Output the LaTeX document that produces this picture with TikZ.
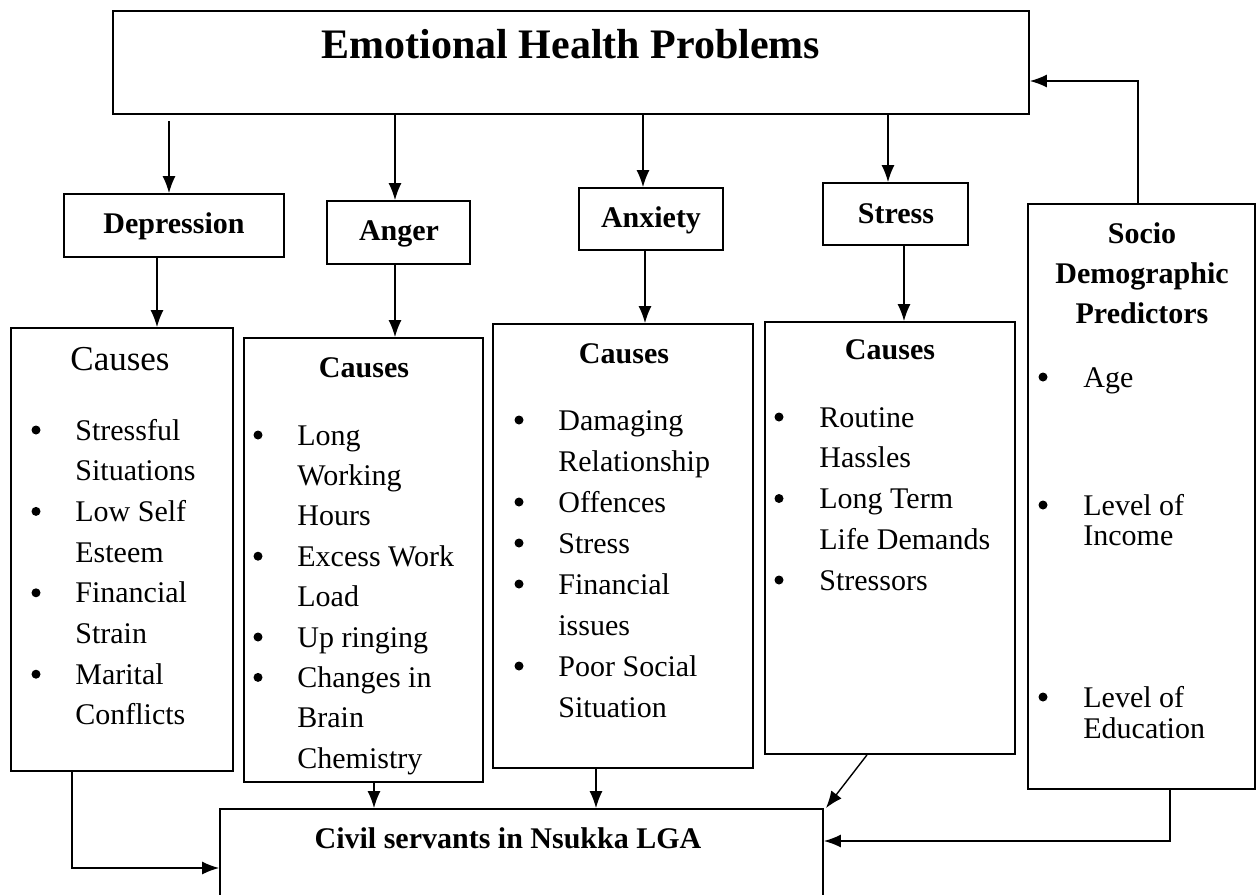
\documentclass[tikz,border=0pt]{standalone}
\usepackage{fontspec}
\setmainfont{Liberation Serif}
\usetikzlibrary{arrows.meta,fit}
\newcommand\bodyfs{\fontsize{15pt}{18pt}\selectfont}
\newcommand\titlefs{\fontsize{21pt}{24pt}\selectfont}
\newcommand\bigcausefs{\fontsize{17.5pt}{20pt}\selectfont}
\begin{document}
\begin{tikzpicture}[x=0.5pt,y=-0.5pt,
  box/.style={draw, line width=0.9pt, inner sep=0pt},
  arr/.style={line width=0.7pt, -{Latex[length=8.5pt,width=6.5pt]}},
  txt/.style={anchor=base west, inner sep=0pt, font=\bodyfs},
  bul/.style={circle, fill, inner sep=0pt, minimum size=4.5pt, yshift=5pt},
  lab/.style={anchor=base, inner sep=0pt, font=\bodyfs\bfseries}]
\useasboundingbox (0,0) rectangle (1260,895);

% boxes
\node[box, fit={(113,11) (1029,114)}] (top) {};
\node[box, fit={(64,194) (284,257)}] (dep) {};
\node[box, fit={(327,201) (470,264)}] (ang) {};
\node[box, fit={(579,188) (723,250)}] (anx) {};
\node[box, fit={(823,183) (968,245)}] (str) {};
\node[box, fit={(1028,204) (1255,789)}] (soc) {};
\node[box, fit={(11,328) (233,771)}] (c1) {};
\node[box, fit={(244,338) (483,782)}] (c2) {};
\node[box, fit={(493,324) (753,768)}] (c3) {};
\node[box, fit={(765,322) (1015,754)}] (c4) {};
\node[box, fit={(220,809) (823,905)}] (civ) {};

% headings
\node[anchor=center, inner sep=0pt, font=\titlefs\bfseries] (title) at (571,44) {Emotional Health Problems};
\node[lab] (ldep) at (174,233) {Depression};
\node[lab] (lang) at (399,240) {Anger};
\node[lab] (lanx) at (651,227) {Anxiety};
\node[lab] (lstr) at (896,223) {Stress};
\node[lab] (lsoc1) at (1142,243) {Socio};
\node[lab] (lsoc2) at (1142,283) {Demographic};
\node[lab] (lsoc3) at (1142,323) {Predictors};
\node[lab] (lciv) at (508,848) {Civil servants in Nsukka LGA};

% causes headings
\node[anchor=base, inner sep=0pt, font=\bigcausefs] (h1) at (120,370) {Causes};
\node[lab] (h2) at (364,377) {Causes};
\node[lab] (h3) at (624,363) {Causes};
\node[lab] (h4) at (890,359) {Causes};

% box 1 items
\foreach \t [count=\k from 0] in {Stressful,Situations,Low Self,Esteem,Financial,Strain,Marital,Conflicts}
  \node[txt] (c1t\k) at (75,440+40.7*\k) {\t};
\foreach \k in {0,2,4,6}
  \node[bul] (c1b\k) at (36,440+40.7*\k) {};

% box 2 items
\foreach \t [count=\k from 0] in {Long,Working,Hours,Excess Work,Load,Up ringing,Changes in,Brain,Chemistry}
  \node[txt] (c2t\k) at (297,445+40.4*\k) {\t};
\foreach \k in {0,3,5,6}
  \node[bul] (c2b\k) at (258,445+40.4*\k) {};

% box 3 items
\foreach \t [count=\k from 0] in {Damaging,Relationship,Offences,Stress,Financial,issues,Poor Social,Situation}
  \node[txt] (c3t\k) at (558,430+41*\k) {\t};
\foreach \k in {0,2,3,4,6}
  \node[bul] (c3b\k) at (519,430+41*\k) {};

% box 4 items
\foreach \t [count=\k from 0] in {Routine,Hassles,Long Term,Life Demands,Stressors}
  \node[txt] (c4t\k) at (819,427+40.75*\k) {\t};
\foreach \k in {0,2,4}
  \node[bul] (c4b\k) at (779,427+40.75*\k) {};

% socio items
\node[txt] (s1) at (1083,387) {Age};
\node[txt] (s2) at (1083,515) {Level of};
\node[txt] (s3) at (1083,545) {Income};
\node[txt] (s4) at (1083,707) {Level of};
\node[txt] (s5) at (1083,738) {Education};
\node[bul] (sb1) at (1043,387) {};
\node[bul] (sb2) at (1043,515) {};
\node[bul] (sb3) at (1043,707) {};

% helper coordinates
\coordinate (xd) at (169,121);
\coordinate (xa) at (395,0);
\coordinate (xx) at (643,0);
\coordinate (xs) at (888,0);
\coordinate (x1) at (157,0);
\coordinate (xx2) at (645,0);
\coordinate (xs2) at (904,0);
\coordinate (xq) at (1138,0);
\coordinate (yq) at (0,81);
\coordinate (xl) at (72,0);
\coordinate (yl) at (0,868);
\coordinate (xb) at (374,0);
\coordinate (xc) at (596,0);
\coordinate (xe) at (867,0);
\coordinate (xr) at (1170,0);
\coordinate (yr) at (0,841);
\coordinate (ct) at (826,808);

% connectors
\draw[arr] (xd) -- (xd |- dep.north);
\draw[arr] (top.south -| xa) -- (ang.north -| xa);
\draw[arr] (top.south -| xx) -- (anx.north -| xx);
\draw[arr] (top.south -| xs) -- (str.north -| xs);
\draw[arr] (dep.south -| x1) -- (c1.north -| x1);
\draw[arr] (ang.south -| xa) -- (c2.north -| xa);
\draw[arr] (anx.south -| xx2) -- (c3.north -| xx2);
\draw[arr] (str.south -| xs2) -- (c4.north -| xs2);
\draw[arr] (soc.north -| xq) |- (top.east |- yq);
\draw[arr] (c1.south -| xl) |- (civ.west |- yl);
\draw[arr] (c2.south -| xb) -- (civ.north -| xb);
\draw[arr] (c3.south -| xc) -- (civ.north -| xc);
\draw[arr] (c4.south -| xe) -- (ct);
\draw[arr] (soc.south -| xr) |- (civ.east |- yr);
\end{tikzpicture}
\end{document}
